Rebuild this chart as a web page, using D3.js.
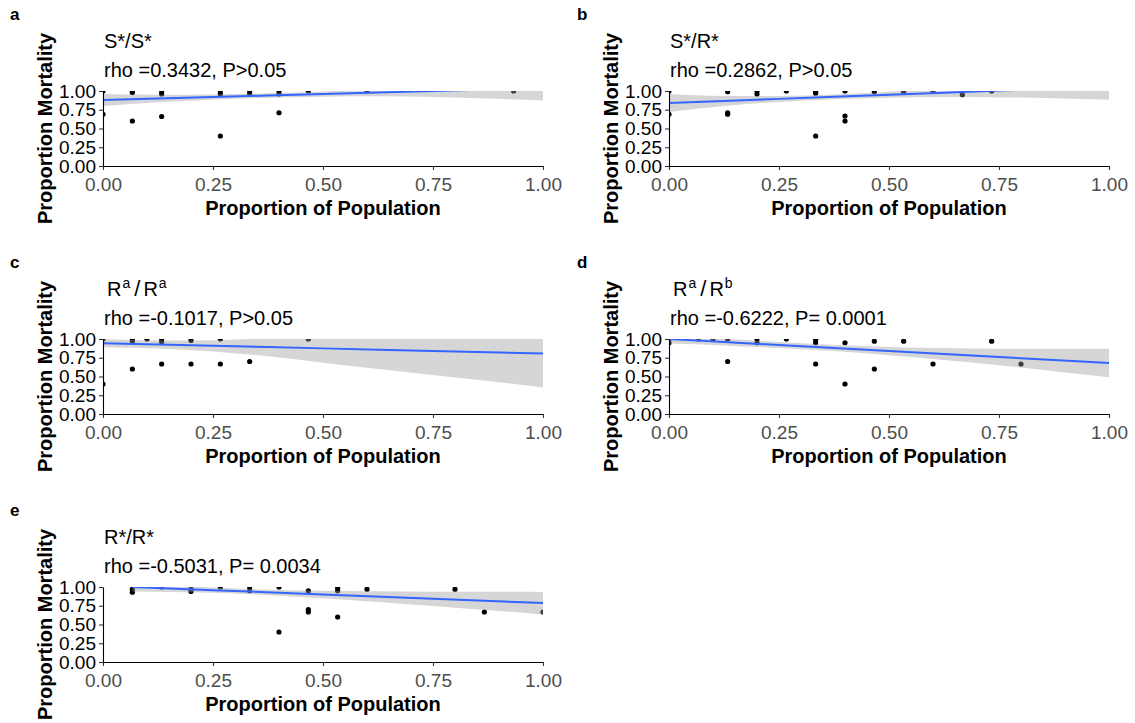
<!DOCTYPE html>
<html>
<head>
<meta charset="utf-8">
<script src="https://cdn.jsdelivr.net/npm/d3@7"></script>
<style>
  body { margin: 0; background: #fff; }
  svg { display: block; }
  text { font-family: "Liberation Sans", Arial, sans-serif; }
</style>
</head>
<body>
<svg id="fig" width="1135" height="723"></svg>
<script>
// ---- shared axis ticks ----
const xTicks = [0, 0.25, 0.5, 0.75, 1];
const yTicks = [0, 0.25, 0.5, 0.75, 1];
const xTitle = "Proportion of Population";
const yTitle = "Proportion Mortality";

// x positions at which the fitted line and its confidence band are given
const fitGrid = [0, 0.125, 0.25, 0.375, 0.5, 0.625, 0.75, 0.875, 1];

// ---- panel a: S*/S* ----
const aX = [0, 0, 0.0667, 0.0667, 0.0667, 0.1333, 0.1333, 0.1333, 0.2667, 0.2667, 0.2667, 0.3333, 0.3333, 0.4, 0.4, 0.4, 0.4667, 0.6, 0.9333];
const aY = [1.0, 0.69, 1.0, 0.98, 0.6, 1.0, 0.96, 0.66, 1.0, 0.96, 0.4, 1.0, 0.96, 1.0, 0.96, 0.71, 1.0, 1.0, 1.0];
const aFit = [0.88, 0.90, 0.92, 0.94, 0.96, 0.98, 1.00, 1.02, 1.04];
const aLow = [0.80, 0.85, 0.885, 0.91, 0.925, 0.93, 0.92, 0.90, 0.875];
const aHigh = [0.96, 0.95, 0.955, 0.97, 0.995, 1.03, 1.08, 1.14, 1.205];

// ---- panel b: S*/R* ----
const bX = [0, 0, 0.1333, 0.1333, 0.1333, 0.2, 0.2, 0.2667, 0.3333, 0.3333, 0.3333, 0.4, 0.4, 0.4, 0.4667, 0.5333, 0.6, 0.6667, 0.7333];
const bY = [1.0, 0.69, 0.99, 0.71, 0.69, 1.0, 0.96, 1.0, 0.99, 0.97, 0.4, 1.0, 0.667, 0.6, 0.99, 0.99, 1.0, 0.95, 1.0];
const bFit = [0.84, 0.8675, 0.895, 0.9225, 0.95, 0.9775, 1.005, 1.0325, 1.06];
const bLow = [0.72, 0.80, 0.855, 0.89, 0.91, 0.92, 0.915, 0.905, 0.885];
const bHigh = [0.96, 0.935, 0.935, 0.955, 0.99, 1.035, 1.095, 1.16, 1.235];

// ---- panel c: Ra/Ra ----
const cX = [0, 0, 0.0667, 0.0667, 0.0667, 0.1, 0.1333, 0.1333, 0.1333, 0.2, 0.2, 0.2667, 0.2667, 0.3333, 0.4667];
const cY = [1.0, 0.4, 1.0, 0.97, 0.6, 1.0, 1.0, 0.96, 0.667, 0.98, 0.667, 1.0, 0.667, 0.7, 1.0];
const cFit = [0.945, 0.9275, 0.91, 0.8925, 0.875, 0.8575, 0.84, 0.8225, 0.805];
const cLow = [0.89, 0.875, 0.835, 0.77, 0.685, 0.60, 0.52, 0.44, 0.355];
const cHigh = [1.0, 0.98, 0.985, 1.015, 1.065, 1.115, 1.16, 1.205, 1.255];

// ---- panel d: Ra/Rb ----
const dX = [0, 0, 0.0667, 0.1, 0.1333, 0.1333, 0.2, 0.2, 0.2667, 0.3333, 0.3333, 0.3333, 0.4, 0.4, 0.4667, 0.4667, 0.5333, 0.6, 0.7333, 0.8];
const dY = [1.0, 0.95, 1.0, 1.0, 1.0, 0.7, 1.0, 0.95, 1.0, 0.99, 0.95, 0.667, 0.95, 0.4, 0.97, 0.6, 0.97, 0.667, 0.97, 0.667];
const dFit = [1.0, 0.96, 0.92, 0.88, 0.84, 0.80, 0.76, 0.72, 0.68];
const dLow = [0.94, 0.915, 0.88, 0.84, 0.785, 0.72, 0.65, 0.57, 0.49];
const dHigh = [1.06, 1.005, 0.96, 0.92, 0.895, 0.88, 0.87, 0.87, 0.87];

// ---- panel e: R*/R* ----
const eX = [0.0667, 0.0667, 0.1333, 0.2, 0.2, 0.2667, 0.3333, 0.3333, 0.4, 0.4, 0.4667, 0.4667, 0.4667, 0.5333, 0.5333, 0.5333, 0.6, 0.8, 0.8667, 1.0];
const eY = [0.97, 0.93, 1.0, 0.97, 0.94, 1.0, 1.0, 0.95, 1.0, 0.4, 0.95, 0.7, 0.667, 0.99, 0.95, 0.6, 0.97, 0.97, 0.667, 0.667];
const eGrid = [0.0667, 0.25, 0.5, 0.75, 1.0];
const eFit = [1.0, 0.958, 0.90, 0.843, 0.785];
const eLow = [0.94, 0.923, 0.85, 0.748, 0.635];
const eHigh = [1.06, 0.993, 0.95, 0.938, 0.935];

// ---- panel headings (title pieces: [text, isSuperscript]) ----
const tags = ["a", "b", "c", "d", "e"];
const titles = [
  [["S*/S*", false]],
  [["S*/R*", false]],
  [["R", false], ["a", true], ["/", false], ["R", false], ["a", true]],
  [["R", false], ["a", true], ["/", false], ["R", false], ["b", true]],
  [["R*/R*", false]]
];
const stats = [
  "rho =0.3432, P>0.05",
  "rho =0.2862, P>0.05",
  "rho =-0.1017, P>0.05",
  "rho =-0.6222, P= 0.0001",
  "rho =-0.5031, P= 0.0034"
];

const panels = [
  { xs: aX, ys: aY, grid: fitGrid, fit: aFit, lo: aLow, hi: aHigh },
  { xs: bX, ys: bY, grid: fitGrid, fit: bFit, lo: bLow, hi: bHigh },
  { xs: cX, ys: cY, grid: fitGrid, fit: cFit, lo: cLow, hi: cHigh },
  { xs: dX, ys: dY, grid: fitGrid, fit: dFit, lo: dLow, hi: dHigh },
  { xs: eX, ys: eY, grid: eGrid, fit: eFit, lo: eLow, hi: eHigh }
];

// ---- layout ----
const colLeft = [103, 669];
const rowTop = [91, 339, 587];
const plotW = 440, plotH = 75;
const tagLeft = [10, 577];

const svg = d3.select("#fig");
const defs = svg.append("defs");

panels.forEach((p, i) => {
  const col = i % 2, row = Math.floor(i / 2);
  const left = colLeft[col], top = rowTop[row];
  const g = svg.append("g").attr("transform", `translate(${left},${top})`);

  const x = d3.scaleLinear().domain([0, 1]).range([0, plotW]);
  const y = d3.scaleLinear().domain([0, 1]).range([plotH, 0]);

  const clipId = "clip-" + tags[i];
  defs.append("clipPath").attr("id", clipId)
    .append("rect").attr("x", 0).attr("y", 0).attr("width", plotW).attr("height", plotH);

  const body = g.append("g").attr("clip-path", `url(#${clipId})`);

  // observations
  body.selectAll("circle")
    .data(p.xs.map((v, k) => [v, p.ys[k]]))
    .join("circle")
    .attr("cx", d => x(d[0]))
    .attr("cy", d => y(d[1]))
    .attr("r", 2.6)
    .attr("fill", "#000");

  // confidence band of the linear fit
  const rows = p.grid.map((v, k) => ({ x: v, f: p.fit[k], lo: p.lo[k], hi: p.hi[k] }));
  body.append("path")
    .datum(rows)
    .attr("d", d3.area()
      .x(d => x(d.x))
      .y0(d => y(d.lo))
      .y1(d => y(d.hi))
      .curve(d3.curveMonotoneX))
    .attr("fill", "#999999")
    .attr("fill-opacity", 0.4);

  // fitted line
  body.append("path")
    .datum(rows)
    .attr("d", d3.line().x(d => x(d.x)).y(d => y(d.f)))
    .attr("fill", "none")
    .attr("stroke", "#3366FF")
    .attr("stroke-width", 2);

  // axes
  const fmt = d3.format(".2f");
  const ax = g.append("g")
    .attr("transform", `translate(0,${plotH})`)
    .call(d3.axisBottom(x).tickValues(xTicks).tickFormat(fmt).tickSize(4).tickSizeOuter(0).tickPadding(8));
  const ay = g.append("g")
    .call(d3.axisLeft(y).tickValues(yTicks).tickFormat(fmt).tickSize(4).tickSizeOuter(0).tickPadding(3));

  [ax, ay].forEach(a => {
    a.select(".domain").attr("stroke", "#000").attr("stroke-width", 1.1);
    a.selectAll(".tick line").attr("stroke", "#333").attr("stroke-width", 1.1);
    a.selectAll(".tick text")
      .attr("font-family", "Liberation Sans, Arial, sans-serif")
      .attr("font-size", 19);
  });
  ax.selectAll(".tick text").attr("fill", "#4D4D4D");
  ay.selectAll(".tick text").attr("fill", "#000");

  // axis titles
  g.append("text")
    .attr("x", plotW / 2).attr("y", plotH + 49)
    .attr("text-anchor", "middle")
    .attr("font-weight", "bold").attr("font-size", 20)
    .text(xTitle);
  g.append("text")
    .attr("transform", `translate(-51,${plotH / 2}) rotate(-90)`)
    .attr("text-anchor", "middle")
    .attr("font-weight", "bold").attr("font-size", 20)
    .text(yTitle);

  // panel heading; superscripts are raised and set smaller, the slash gets a little air
  const t = g.append("text").attr("x", titles[i].length > 1 ? 4 : 1).attr("y", -43).attr("font-size", 20);
  let raised = false;
  titles[i].forEach(([s, sup], k) => {
    const ts = t.append("tspan").text(s);
    if (sup && !raised) { ts.attr("dy", -8).attr("dx", 1).attr("font-size", 14); raised = true; }
    else if (!sup && raised) { ts.attr("dy", 8).attr("dx", s === "/" ? 4 : 1); raised = false; }
    else if (sup) { ts.attr("font-size", 14); }
    if (s === "/") ts.attr("font-size", 22);
    if (k > 0 && titles[i][k - 1][0] === "/") ts.attr("dx", 3);
  });

  g.append("text")
    .attr("x", 1).attr("y", -14)
    .attr("font-size", 20)
    .text(stats[i]);

  // panel tag
  svg.append("text")
    .attr("x", tagLeft[col]).attr("y", 20 + row * 248)
    .attr("font-weight", "bold").attr("font-size", 17)
    .text(tags[i]);
});
</script>
</body>
</html>
